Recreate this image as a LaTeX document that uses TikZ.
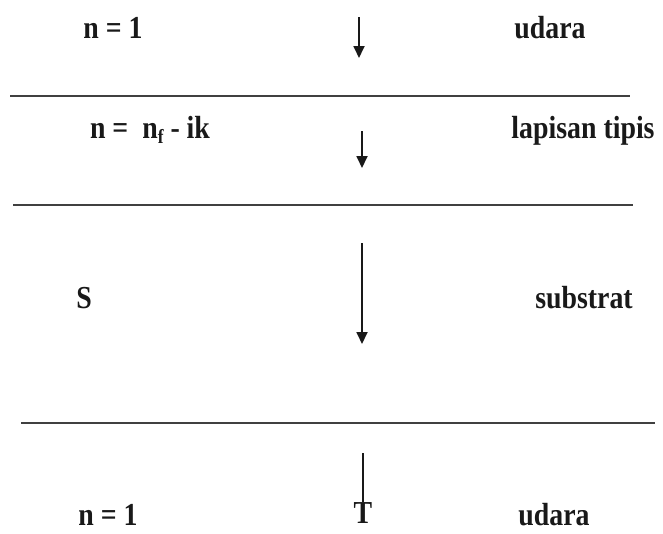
\documentclass[tikz,border=0pt]{standalone}
\usepackage{fontspec}
\setmainfont{Liberation Serif}[FakeStretch=0.87]
\usetikzlibrary{arrows.meta}
\begin{document}
\begin{tikzpicture}[x=1pt,y=-1pt,
  lbl/.style={font=\fontsize{32}{34}\selectfont\bfseries, inner sep=0pt, text=black!90},
  bound/.style={line width=2.2pt, draw=black!75},
  ray/.style={line width=1.8pt, draw=black!90, -{Triangle[length=12pt,width=11pt]}},
  rayplain/.style={line width=1.8pt, draw=black!90}]
\useasboundingbox (0,0) rectangle (663,533);
% boundaries
\coordinate (b1l) at (10,96);  \coordinate (b1r) at (630,96);
\coordinate (b2l) at (13,205); \coordinate (b2r) at (633,205);
\coordinate (b3l) at (21,423); \coordinate (b3r) at (655,423);
\draw[bound] (b1l) -- (b1r);
\draw[bound] (b2l) -- (b2r);
\draw[bound] (b3l) -- (b3r);
% labels
\node[lbl] (n1) at (113,28) {n = 1};
\node[lbl] (u1) at (550,28) {udara};
\node[lbl] (nf) at (150,130) {n =\ \ n\raisebox{-0.35ex}{\fontsize{20}{20}\selectfont f} - ik};
\node[lbl] (lt) at (583,131) {lapisan tipis};
\node[lbl] (s) at (84,298) {S};
\node[lbl] (sub) at (584,298) {substrat};
\node[lbl] (n2) at (108,515) {n = 1};
\node[lbl] (u2) at (554,515) {udara};
\node[lbl] (t) at (363,513) {T};
% rays
\coordinate (a1s) at (359,17);  \coordinate (a1e) at (359,58);
\coordinate (a2s) at (362,131); \coordinate (a2e) at (362,168);
\coordinate (a3s) at (362,243); \coordinate (a3e) at (362,344);
\coordinate (a4s) at (363,453);
\draw[ray] (a1s) -- (a1e);
\draw[ray] (a2s) -- (a2e);
\draw[ray] (a3s) -- (a3e);
\draw[rayplain] (a4s) -- (t.north);
\end{tikzpicture}
\end{document}
